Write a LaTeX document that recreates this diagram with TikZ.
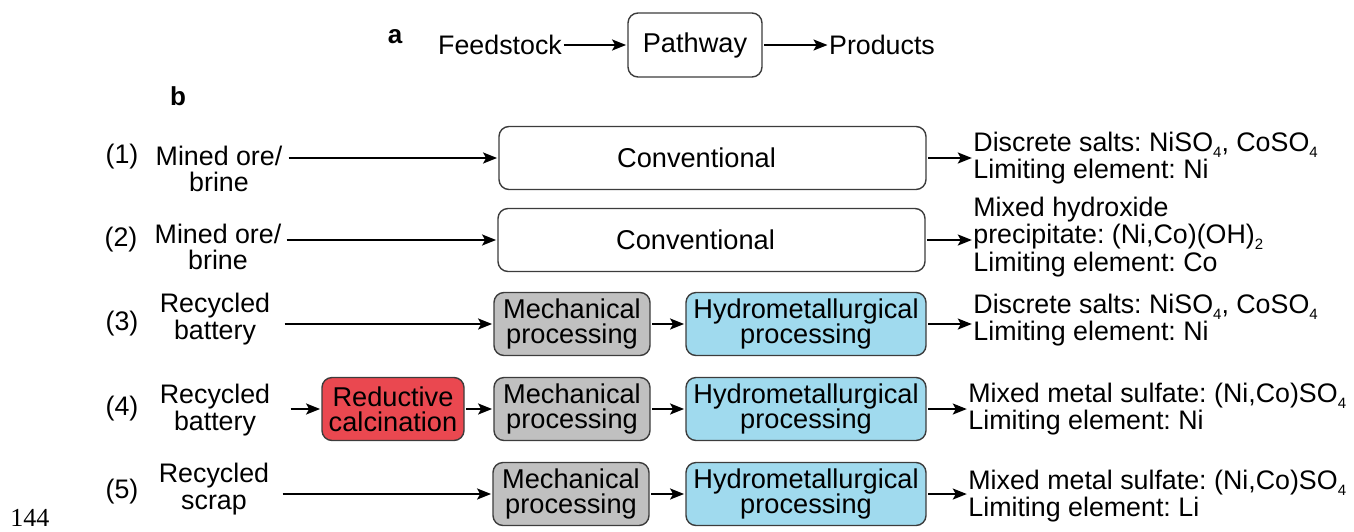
\documentclass[tikz,border=0pt]{standalone}
\usepackage{fontspec}
\setmainfont{Liberation Sans}
\newfontfamily\numfont{Liberation Serif}
\usetikzlibrary{arrows.meta}

\definecolor{redfill}{RGB}{234,72,80}
\definecolor{bluefill}{RGB}{160,218,238}
\definecolor{grayfill}{RGB}{192,192,192}
\definecolor{edge}{RGB}{60,60,60}

% small, low chemical subscript
\newcommand\chemsub[1]{\raisebox{-0.45ex}{\fontsize{7.5}{7.5}\selectfont #1}}

\tikzset{
  txt/.style={inner sep=0pt, font=\fontsize{13.4}{12}\selectfont},
  outtxt/.style={txt, anchor=west, align=left},
  intxt/.style={inner sep=0pt, align=center, font=\fontsize{13.4}{13.2}\selectfont},
  panel/.style={inner sep=0pt, font=\fontsize{13}{13}\selectfont\bfseries},
  stage/.style={draw=edge, line width=0.7pt, rounded corners=5pt,
    minimum height=31.5pt, align=center, inner sep=0pt,
    font=\fontsize{13.6}{12.7}\selectfont},
  conv/.style={stage, fill=white, minimum width=213.5pt},
  mech/.style={stage, fill=grayfill, minimum width=78pt},
  hydro/.style={stage, fill=bluefill, minimum width=120pt},
  redu/.style={stage, fill=redfill, minimum width=71pt},
  flow/.style={-{Stealth[length=7pt,width=5.5pt,inset=1.5pt]}, line width=1pt,
    shorten >=0.6pt, shorten <=0.8pt},
}

\begin{document}
\frenchspacing
\begin{tikzpicture}[x=0.5pt, y=-0.5pt]
\useasboundingbox (0,0) rectangle (1354,531);

% ---- panel a: legend ----
\node[panel] (la) at (395,37) {a};
\node[txt] (feed) at (500,45) {Feedstock};
\node[stage, fill=white, minimum width=67pt, minimum height=32pt] (path) at (695,45) {Pathway};
\node[txt] (prod) at (882,45) {Products};
\draw[flow] (feed) -- (path);
\draw[flow] (path) -- (prod);

% ---- panel b ----
\node[panel] (lb) at (178,96) {b};

% row 1
\node[txt] (n1) at (122,157) {(1)};
\node[intxt] (in1) at (219,169) {Mined ore/\\brine};
\coordinate (s1) at (287,158);
\node[conv] (c1) at (712.5,158) {\hspace*{-16pt}Conventional};
\node[outtxt] (o1) at (973,158) {Discrete salts: NiSO\chemsub{4}, CoSO\chemsub{4}\\Limiting element: Ni};
\draw[flow] (s1) -- (c1.west |- s1);
\draw[flow] (c1) -- (o1);

% row 2
\node[txt] (n2) at (121,240) {(2)};
\node[intxt] (in2) at (218,247) {Mined ore/\\brine};
\coordinate (s2) at (285,240);
\node[conv] (c2) at (711.5,240) {\hspace*{-16pt}Conventional};
\node[outtxt] (o2) at (973,237) {Mixed hydroxide\\precipitate: (Ni,Co)(OH)\chemsub{2}\\Limiting element: Co};
\draw[flow] (s2) -- (c2.west |- s2);
\draw[flow] (c2) -- (o2.west |- c2);

% row 3
\node[txt] (n3) at (122,324) {(3)};
\node[intxt] (in3) at (215,319) {Recycled\\battery};
\coordinate (s3) at (283,324);
\node[mech] (m3) at (572,324) {Mechanical\\processing};
\node[hydro] (h3) at (806,324) {Hydrometallurgical\\processing};
\node[outtxt] (o3) at (973,320) {Discrete salts: NiSO\chemsub{4}, CoSO\chemsub{4}\\Limiting element: Ni};
\draw[flow] (s3) -- (m3);
\draw[flow] (m3) -- (h3);
\draw[flow] (h3) -- (o3.west |- h3);

% row 4
\node[txt] (n4) at (122,409) {(4)};
\node[intxt] (in4) at (215,410) {Recycled\\battery};
\coordinate (s4) at (289,409);
\node[redu] (r4) at (393,409) {Reductive\\calcination};
\node[mech] (m4) at (572,409) {Mechanical\\processing};
\node[hydro] (h4) at (806,409) {Hydrometallurgical\\processing};
\node[outtxt] (o4) at (968,409) {Mixed metal sulfate: (Ni,Co)SO\chemsub{4}\\Limiting element: Ni};
\draw[flow] (s4) -- (r4);
\draw[flow] (r4) -- (m4);
\draw[flow] (m4) -- (h4);
\draw[flow] (h4) -- (o4.west |- h4);

% row 5
\node[txt] (n5) at (122,492) {(5)};
\node[intxt] (in5) at (214,489) {Recycled\\scrap};
\coordinate (s5) at (281,494);
\node[mech] (m5) at (571,494) {Mechanical\\processing};
\node[hydro] (h5) at (806,494) {Hydrometallurgical\\processing};
\node[outtxt] (o5) at (968,496) {Mixed metal sulfate: (Ni,Co)SO\chemsub{4}\\Limiting element: Li};
\draw[flow] (s5) -- (m5);
\draw[flow] (m5) -- (h5);
\draw[flow] (h5) -- (o5.west |- h5);

% line number in the margin
\node[inner sep=0pt, font=\numfont\fontsize{13}{13}\selectfont] (ln) at (30,518) {144};
\end{tikzpicture}
\end{document}
